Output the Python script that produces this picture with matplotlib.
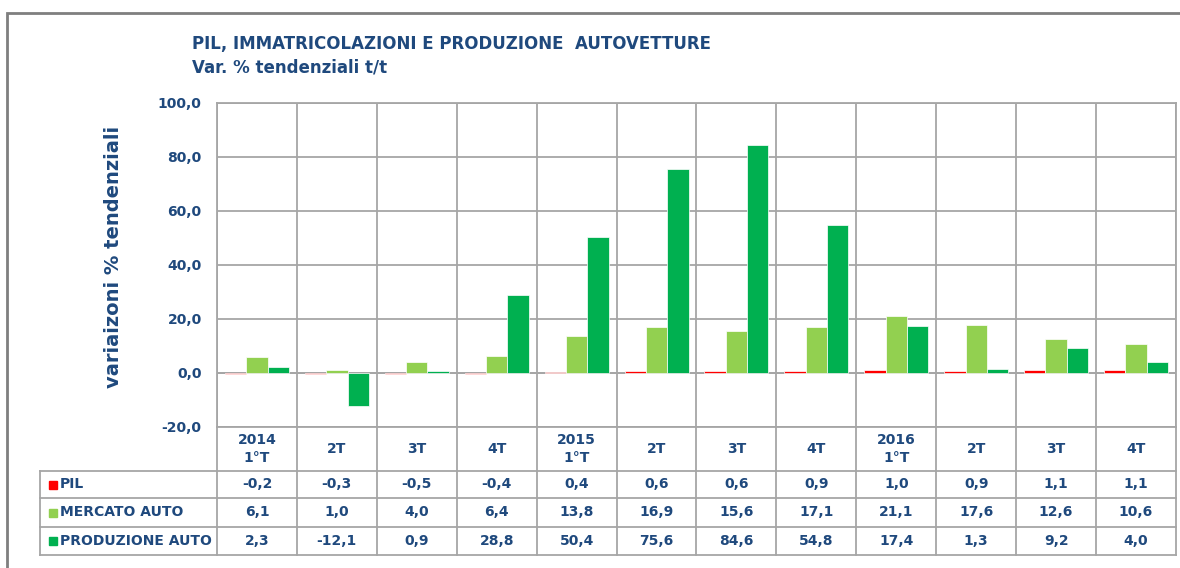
import matplotlib.pyplot as plt
import matplotlib.transforms as mtransforms
from matplotlib.patches import Rectangle
import numpy as np

quarters = ["2014\n1°T", "2T", "3T", "4T", "2015\n1°T", "2T", "3T", "4T",
            "2016\n1°T", "2T", "3T", "4T"]
pil = [-0.2, -0.3, -0.5, -0.4, 0.4, 0.6, 0.6, 0.9, 1.0, 0.9, 1.1, 1.1]
mercato = [6.1, 1.0, 4.0, 6.4, 13.8, 16.9, 15.6, 17.1, 21.1, 17.6, 12.6, 10.6]
produzione = [2.3, -12.1, 0.9, 28.8, 50.4, 75.6, 84.6, 54.8, 17.4, 1.3, 9.2, 4.0]
series_names = ["PIL", "MERCATO AUTO", "PRODUZIONE AUTO"]
colors = ["#FF0000", "#92D050", "#00B050"]
yticks = [-20, 0, 20, 40, 60, 80, 100]

navy = "#1F497D"
grid_col = "#A6A6A6"
plt.rcParams['font.family'] = ['DejaVu Sans']

W, H = 1180, 568
fig = plt.figure(figsize=(W / 100, H / 100), dpi=100)
ax = fig.add_axes([217 / W, 1 - 427 / H, (1176 - 217) / W, 324 / H])

series = [pil, mercato, produzione]
n = len(quarters)
xc = np.arange(n) + 0.5
bw = 0.267
for k, (vals, col) in enumerate(zip(series, colors)):
    ax.bar(xc + (k - 1) * bw, vals, width=bw, color=col, edgecolor='white',
           linewidth=0.5, zorder=3)

ax.set_xlim(0, n)
ax.set_ylim(-20, 100)
ax.set_yticks(yticks)
ax.set_yticklabels([f"{v:.1f}".replace('.', ',') for v in yticks],
                   fontsize=10, fontweight='bold', color=navy)
ax.set_xticks(np.arange(n + 1))
ax.set_xticklabels([])
ax.tick_params(length=0, pad=11)
ax.grid(True, color=grid_col, linewidth=1.3, zorder=0)
for s in ax.spines.values():
    s.set_color(grid_col)
    s.set_linewidth(1.3)
ax.axhline(0, color=grid_col, linewidth=1.3, zorder=2)

# data table below the plot
trans = mtransforms.blended_transform_factory(ax.transData, ax.transAxes)
rows_y = [(427 - y) / 324 for y in (471, 498, 527, 555)]
x_lab = (40 - 217) / 80
line_kw = dict(color=grid_col, linewidth=1.3, transform=trans, clip_on=False)
for i in range(n + 1):
    ax.plot([i, i], [0, rows_y[-1]], **line_kw)
ax.plot([x_lab, x_lab], [rows_y[0], rows_y[-1]], **line_kw)
for y in rows_y:
    ax.plot([x_lab, n], [y, y], **line_kw)

txt_kw = dict(transform=trans, ha='center', va='center', fontsize=10,
              fontweight='bold', color=navy, clip_on=False)
for i, q in enumerate(quarters):
    ax.text(xc[i], rows_y[0] / 2, q, linespacing=1.45, **txt_kw)
for r, (name, vals, col) in enumerate(zip(series_names, series, colors)):
    ymid = (rows_y[r] + rows_y[r + 1]) / 2
    for i, v in enumerate(vals):
        ax.text(xc[i], ymid, f"{v:.1f}".replace('.', ','), **txt_kw)
    ax.plot([(53 - 217) / 80], [ymid], marker='s', markersize=6, color=col,
            transform=trans, clip_on=False)
    ax.text((60 - 217) / 80, ymid, name, transform=trans, ha='left', va='center',
            fontsize=10, fontweight='bold', color=navy, clip_on=False)

ax.set_ylabel("variaizoni % tendenziali", fontsize=14, fontweight='bold',
              color=navy)
ax.yaxis.set_label_coords((123 - 217) / (1176 - 217), (427 - 257) / 324)

fig.text(192 / W, 1 - 44 / H, "PIL, IMMATRICOLAZIONI E PRODUZIONE  AUTOVETTURE",
         fontsize=12, fontweight='bold', color=navy, va='center')
fig.text(192 / W, 1 - 67 / H, "Var. % tendenziali t/t",
         fontsize=12, fontweight='bold', color=navy, va='center')

fig.patches.append(Rectangle((7 / W, -0.1), 1.2, 1 - 13 / H + 0.1,
                             transform=fig.transFigure, fill=False,
                             edgecolor='#7F7F7F', linewidth=2))

fig.savefig("out.png", dpi=100)
